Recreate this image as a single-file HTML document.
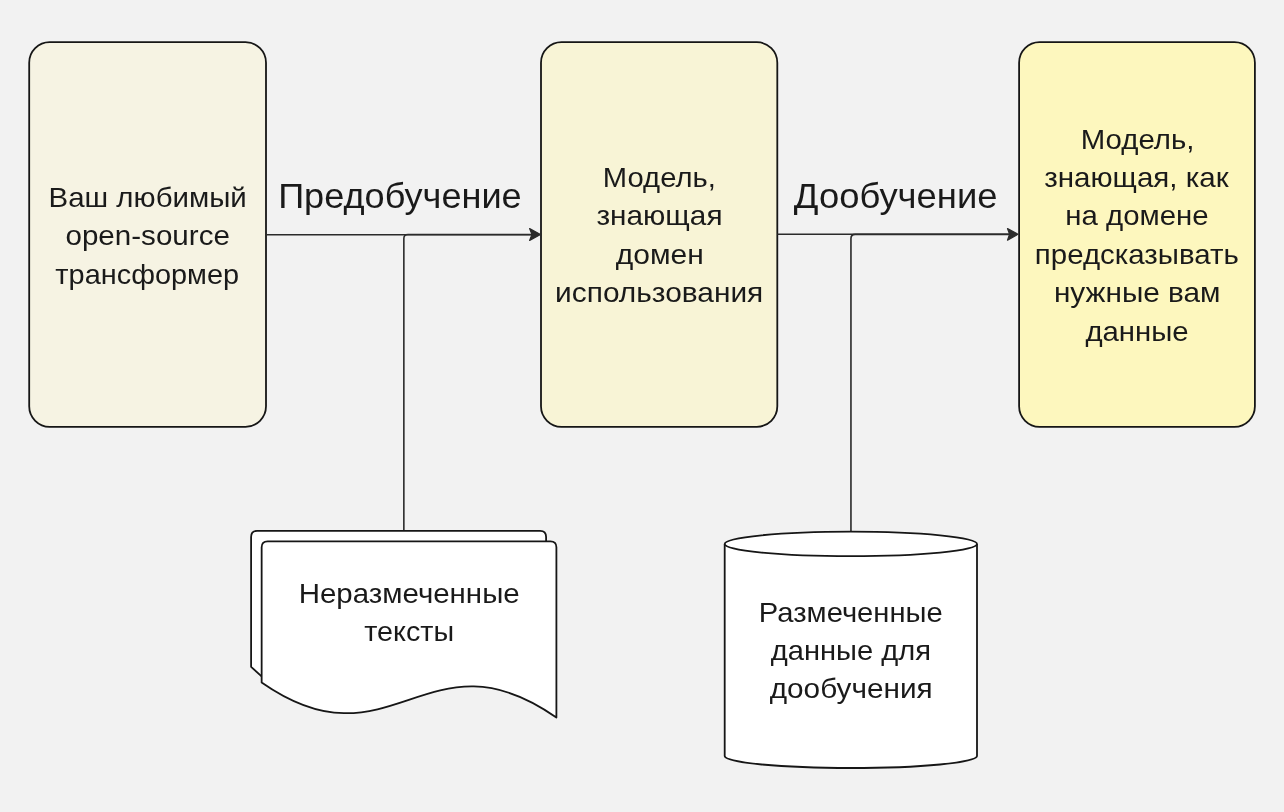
<!DOCTYPE html>
<html><head><meta charset="utf-8"><style>html,body{margin:0;padding:0;background:#f2f2f2;overflow:hidden}svg{display:block;will-change:transform}</style></head>
<body>
<svg width="1284" height="812" viewBox="0 0 1284 812">
<rect width="1284" height="812" fill="#f2f2f2"/>
<g stroke="#161616" stroke-width="1.8">
<rect x="29.2" y="42.2" width="236.8" height="384.6" rx="20.5" fill="#f6f3e3"/>
<rect x="541" y="42.2" width="236.3" height="384.6" rx="20.5" fill="#f8f4d6"/>
<rect x="1019.1" y="42.2" width="235.8" height="384.6" rx="20.5" fill="#fdf7be"/>
</g>
<g fill="none" stroke="#2b2b2b" stroke-width="1.6" stroke-linejoin="round">
<path d="M266 234.75 H534"/>
<path d="M403.85 531 V238.6 Q403.85 234.5 408 234.5 H534"/>
<path d="M777.3 234.25 H1012"/>
<path d="M850.95 531.5 V238.6 Q850.95 234.35 855.2 234.35 H1012"/>
</g>
<g fill="#2b2b2b" stroke="#2b2b2b" stroke-width="1.2" stroke-linejoin="round">
<path d="M540.5 234.5 L529.6 228.6 L532 234.5 L529.6 240.4 Z"/>
<path d="M1018 234.3 L1007.5 228.6 L1009.6 234.3 L1007.5 240.2 Z"/>
</g>
<g stroke="#161616" stroke-width="1.8" fill="#fff" stroke-linejoin="round">
<path d="M261.6 676.3 L251.1 666.8 V537 Q251.1 530.8 257.1 530.8 H540.1 Q546.1 530.8 546.1 537 V600 H261.6 Z" stroke="none"/>
<path d="M261.6 676.3 L251.1 666.8 V537 Q251.1 530.8 257.1 530.8 H540.1 Q546.1 530.8 546.1 537 V542" fill="none"/>
<path d="M261.65 682.4 V547.3 Q261.65 541.3 267.65 541.3 H550.4 Q556.4 541.3 556.4 547.3 V717.5 C 426.9 626.75 390.96 772.66 261.65 682.4 Z"/>
<path d="M724.7 543.9 V756 A126.15 12 0 0 0 977 756 V543.9"/>
<ellipse cx="850.85" cy="543.9" rx="126.15" ry="12.2"/>
</g>
<g font-family="Liberation Sans, sans-serif" fill="#1a1a1a">
<text transform="translate(278.16 207.80) scale(1.0234 1)" font-size="35.30">Предобучение</text>
<text transform="translate(793.84 207.60) scale(1.0314 1)" font-size="35.30">Дообучение</text>
<text transform="translate(48.54 206.60) scale(1.0340 1)" font-size="28.50">Ваш любимый</text>
<text transform="translate(65.42 245.10) scale(1.0385 1)" font-size="28.50">open-source</text>
<text transform="translate(55.32 283.60) scale(1.0148 1)" font-size="28.50">трансформер</text>
<text transform="translate(602.86 186.80) scale(1.0251 1)" font-size="28.50">Модель,</text>
<text transform="translate(596.41 225.30) scale(1.0450 1)" font-size="28.50">знающая</text>
<text transform="translate(615.70 263.70) scale(1.0526 1)" font-size="28.50">домен</text>
<text transform="translate(555.11 302.20) scale(1.0480 1)" font-size="28.50">использования</text>
<text transform="translate(1080.75 148.60) scale(1.0327 1)" font-size="28.50">Модель,</text>
<text transform="translate(1044.21 187.00) scale(1.0363 1)" font-size="28.50">знающая, как</text>
<text transform="translate(1065.34 225.40) scale(1.0313 1)" font-size="28.50">на домене</text>
<text transform="translate(1034.84 263.90) scale(1.0331 1)" font-size="28.50">предсказывать</text>
<text transform="translate(1053.92 302.30) scale(1.0443 1)" font-size="28.50">нужные вам</text>
<text transform="translate(1085.41 340.70) scale(1.0303 1)" font-size="28.50">данные</text>
<text transform="translate(298.74 602.70) scale(1.0331 1)" font-size="28.50">Неразмеченные</text>
<text transform="translate(364.23 641.20) scale(1.0088 1)" font-size="28.50">тексты</text>
<text transform="translate(758.76 621.60) scale(1.0248 1)" font-size="28.50">Размеченные</text>
<text transform="translate(770.71 659.90) scale(1.0216 1)" font-size="28.50">данные для</text>
<text transform="translate(769.70 698.20) scale(1.0442 1)" font-size="28.50">дообучения</text>
</g>
</svg>
</body></html>
